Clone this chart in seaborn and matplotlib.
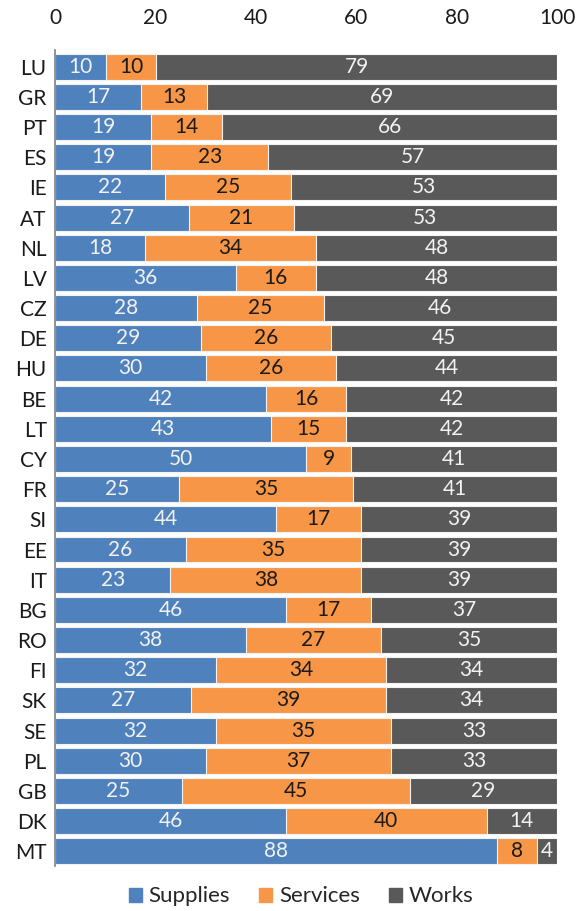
import matplotlib.pyplot as plt
import matplotlib.patches as mpatches
import numpy as np
import pandas as pd
import seaborn as sns

countries = ['LU', 'GR', 'PT', 'ES', 'IE', 'AT', 'NL', 'LV', 'CZ', 'DE', 'HU', 'BE', 'LT', 'CY',
             'FR', 'SI', 'EE', 'IT', 'BG', 'RO', 'FI', 'SK', 'SE', 'PL', 'GB', 'DK', 'MT']
supplies = [10, 17, 19, 19, 22, 27, 18, 36, 28, 29, 30, 42, 43, 50,
            25, 44, 26, 23, 46, 38, 32, 27, 32, 30, 25, 46, 88]
services = [10, 13, 14, 23, 25, 21, 34, 16, 25, 26, 26, 16, 15, 9,
            35, 17, 35, 38, 17, 27, 34, 39, 35, 37, 45, 40, 8]
works = [79, 69, 66, 57, 53, 53, 48, 48, 46, 45, 44, 42, 42, 41,
         41, 39, 39, 39, 37, 35, 34, 34, 33, 33, 29, 14, 4]

c_sup = '#4f81bd'
c_ser = '#f79646'
c_wor = '#595959'

df = pd.DataFrame({'Country': countries, 'Supplies': supplies,
                   'Services': services, 'Works': works})
total = df[['Supplies', 'Services', 'Works']].sum(axis=1)
# 100% stacked: shares of the row total
df['s1'] = df['Supplies'] / total * 100
df['s2'] = (df['Supplies'] + df['Services']) / total * 100
df['s3'] = 100.0

sns.set_style("white")
plt.rcParams['font.family'] = ['Lato', 'DejaVu Sans']

fig, ax = plt.subplots(figsize=(5.79, 9.11), dpi=100)
fig.subplots_adjust(left=0.095, right=0.962, top=0.945, bottom=0.049)

kw = dict(y='Country', data=df, orient='h', width=0.86, saturation=1,
          edgecolor='#f2f2f2', linewidth=0.8, ax=ax)
sns.barplot(x='s3', color=c_wor, **kw)
sns.barplot(x='s2', color=c_ser, **kw)
sns.barplot(x='s1', color=c_sup, **kw)

# value labels
for i, row in df.iterrows():
    ax.text(row['s1'] / 2, i, str(row['Supplies']), ha='center', va='center',
            color='#f2f2f2', fontsize=15)
    ax.text((row['s1'] + row['s2']) / 2, i, str(row['Services']), ha='center', va='center',
            color='#1a1a1a', fontsize=15)
    ax.text((row['s2'] + 100) / 2, i, str(row['Works']), ha='center', va='center',
            color='#f2f2f2', fontsize=15)

ax.set_xlim(0, 100)
ax.set_ylim(len(countries) - 0.5, -0.55)
ax.set_xticks([0, 20, 40, 60, 80, 100])
ax.xaxis.tick_top()
ax.tick_params(axis='x', length=0, labelsize=15, colors='#1a1a1a', pad=16)
ax.tick_params(axis='y', length=0, labelsize=15, colors='#1a1a1a', pad=6)
ax.set_xlabel('')
ax.set_ylabel('')
for s in ['top', 'right', 'bottom']:
    ax.spines[s].set_visible(False)
ax.spines['left'].set_color('#7f7f7f')
ax.spines['left'].set_linewidth(1.2)

handles = [mpatches.Patch(color=c_sup, label='Supplies'),
           mpatches.Patch(color=c_ser, label='Services'),
           mpatches.Patch(color=c_wor, label='Works')]
fig.legend(handles=handles, loc='lower center', ncol=3, frameon=False, fontsize=16,
           bbox_to_anchor=(0.52, -0.017), handlelength=0.6, handleheight=0.6,
           handletextpad=0.3, columnspacing=1.3)

plt.savefig('out.png', dpi=100)
